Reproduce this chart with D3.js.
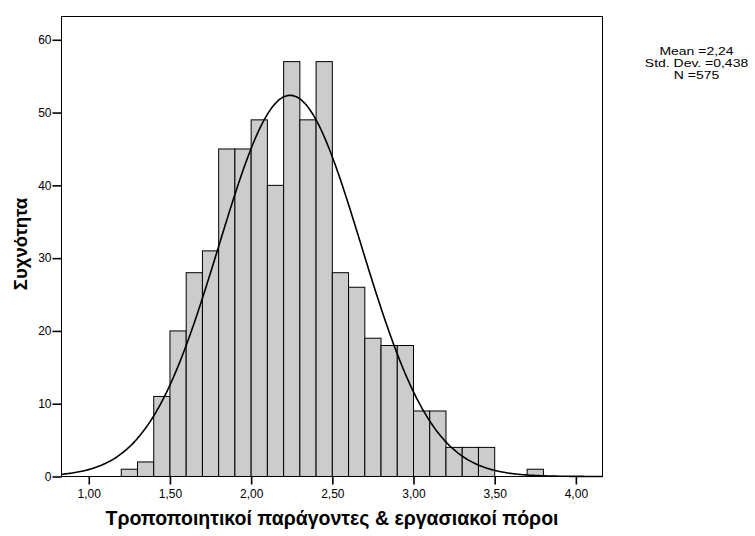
<!DOCTYPE html>
<html>
<head>
<meta charset="utf-8">
<script src="https://cdn.jsdelivr.net/npm/d3@7"></script>
<style>
  html, body { margin: 0; padding: 0; background: #fff; }
  svg { display: block; }
  text { font-family: "Liberation Sans", Arial, sans-serif; fill: #000; }
</style>
</head>
<body>
<svg id="chart" width="755" height="536"></svg>
<script>
// Histogram bins (lower edge, width 0.1) and counts
const binStarts = [1.2, 1.3, 1.4, 1.5, 1.6, 1.7, 1.8, 1.9, 2.0, 2.1, 2.2, 2.3, 2.4,
                   2.5, 2.6, 2.7, 2.8, 2.9, 3.0, 3.1, 3.2, 3.3, 3.4, 3.7];
const counts    = [1, 2, 11, 20, 28, 31, 45, 45, 49, 40, 57, 49, 57,
                   28, 26, 19, 18, 18, 9, 9, 4, 4, 4, 1];
const binWidth = 0.1;

// Summary statistics
const statMean = 2.24;
const statSd = 0.438;
const statN = 575;

// Axis ticks
const xTicks = [1.0, 1.5, 2.0, 2.5, 3.0, 3.5, 4.0];
const yTicks = [0, 10, 20, 30, 40, 50, 60];

const xTitle = "Τροποποιητικοί παράγοντες & εργασιακοί πόροι";
const yTitle = "Συχνότητα";

const fmtComma = v => v.toFixed(2).replace(".", ",");

const svg = d3.select("#chart");

const x = d3.scaleLinear().domain([0.832, 4.164]).range([61.5, 602.5]);
const y = d3.scaleLinear().domain([0, 63.2]).range([476.5, 16.5]);

const [x0, x1] = x.range();
const [yb, yt] = y.range();

// Bars
svg.append("g")
  .selectAll("rect")
  .data(binStarts.map((s, i) => ({ s, c: counts[i] })))
  .join("rect")
  .attr("x", d => x(d.s))
  .attr("y", d => y(d.c))
  .attr("width", d => x(d.s + binWidth) - x(d.s))
  .attr("height", d => y(0) - y(d.c))
  .attr("fill", "#cccccc")
  .attr("stroke", "#000")
  .attr("stroke-width", 1);

// Normal curve scaled to counts
const scaleK = statN * binWidth / (statSd * Math.sqrt(2 * Math.PI));
const curvePts = d3.range(0, 401).map(i => {
  const v = x.domain()[0] + (x.domain()[1] - x.domain()[0]) * i / 400;
  const z = (v - statMean) / statSd;
  return [v, scaleK * Math.exp(-0.5 * z * z)];
});
svg.append("path")
  .datum(curvePts)
  .attr("d", d3.line().x(d => x(d[0])).y(d => y(d[1])).curve(d3.curveBasis))
  .attr("fill", "none")
  .attr("stroke", "#000")
  .attr("stroke-width", 1.6);

// Frame
svg.append("rect")
  .attr("x", x0).attr("y", yt)
  .attr("width", x1 - x0).attr("height", yb - yt)
  .attr("fill", "none")
  .attr("stroke", "#000")
  .attr("stroke-width", 1);

// X axis
const xAxis = d3.axisBottom(x).tickValues(xTicks).tickSize(8).tickPadding(5).tickFormat(fmtComma);
const gx = svg.append("g").attr("transform", `translate(0,${yb})`).call(xAxis);
gx.select(".domain").remove();
gx.selectAll(".tick line").attr("stroke", "#000").attr("stroke-width", 1.6);
gx.selectAll(".tick text")
  .style("font-family", '"Liberation Sans", Arial, sans-serif')
  .style("font-size", "12px").attr("fill", "#000");

// Y axis
const yAxis = d3.axisLeft(y).tickValues(yTicks).tickSize(9).tickPadding(1).tickFormat(d3.format("d"));
const gy = svg.append("g").attr("transform", `translate(${x0},0)`).call(yAxis);
gy.select(".domain").remove();
gy.selectAll(".tick line").attr("stroke", "#000").attr("stroke-width", 1.6);
gy.selectAll(".tick text")
  .style("font-family", '"Liberation Sans", Arial, sans-serif')
  .style("font-size", "12px").attr("fill", "#000");

// Axis titles
svg.append("text")
  .attr("x", (x0 + x1) / 2)
  .attr("y", 525)
  .attr("text-anchor", "middle")
  .style("font-size", "19.5px")
  .style("font-weight", "bold")
  .text(xTitle);

svg.append("text")
  .attr("transform", `translate(27,244) rotate(-90)`)
  .attr("text-anchor", "middle")
  .style("font-size", "18.5px")
  .style("font-weight", "bold")
  .text(yTitle);

// Statistics box
const statLines = [
  `Mean =${statMean.toFixed(2).replace(".", ",")}`,
  `Std. Dev. =${statSd.toFixed(3).replace(".", ",")}`,
  `N =${statN}`
];
const gs = svg.append("g").attr("transform", "translate(696.5,0) scale(1.33,1)");
gs.selectAll("text")
  .data(statLines)
  .join("text")
  .attr("x", 0)
  .attr("y", (d, i) => 55.5 + i * 12)
  .attr("text-anchor", "middle")
  .style("font-size", "10.5px")
  .text(d => d);
</script>
</body>
</html>
